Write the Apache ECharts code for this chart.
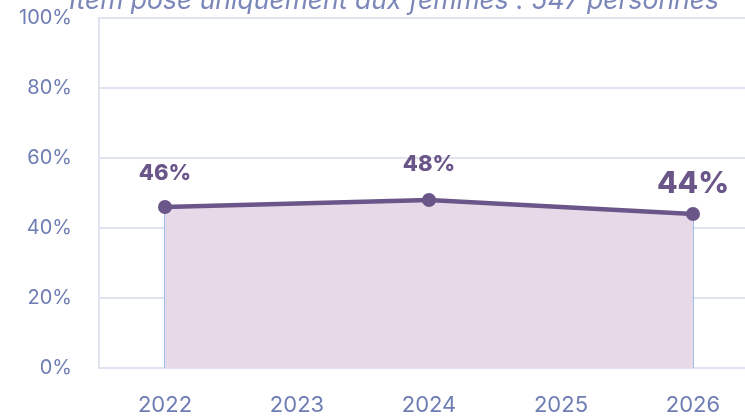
<!DOCTYPE html>
<html>
<head>
<meta charset="utf-8">
<script src="https://cdn.jsdelivr.net/npm/echarts@6/dist/echarts.min.js"></script>
<style>
  html, body { margin: 0; padding: 0; background: #fff; }
  #main { width: 745px; height: 419px; }
</style>
</head>
<body>
<div id="main"></div>
<script>
    // données
    var years = ['2022', '2023', '2024', '2025', '2026'];
    var values = [46, null, 48, null, 44];
    var yTicks = [0, 20, 40, 60, 80, 100];
    var titleText = 'Item posé uniquement aux femmes : 547 personnes';

    var lineColor = '#6a5688';
    var axisColor = '#dfe2ef';
    var labelColor = '#6e7db3';

    var lastIdx = values.length - 1;
    var seriesData = values.map(function (v, i) {
        if (v === null) return null;
        var big = i === lastIdx;
        return {
            value: v,
            label: {
                fontSize: big ? 30 : 22,
                offset: big ? [0, 6] : (i === 0 ? [0, -2] : [0, -4])
            }
        };
    });

    // traits verticaux aux extrémités de l'aire
    var edgeLines = [];
    [0, lastIdx].forEach(function (i) {
        edgeLines.push([{coord: [years[i], 0]}, {coord: [years[i], values[i]]}]);
    });

    var chart = echarts.init(document.getElementById('main'));
    chart.setOption({
        animation: false,
        textStyle: {fontFamily: 'Inter'},
        title: {
            text: titleText,
            left: 64,
            top: -17,
            textStyle: {
                fontFamily: 'Inter',
                fontStyle: 'italic',
                fontWeight: 'normal',
                fontSize: 26.5,
                color: '#7b87b9'
            }
        },
        grid: {
            left: 99, width: 660, top: 18, bottom: 51,
            containLabel: false,
            outerBoundsMode: 'none'
        },
        xAxis: {
            type: 'category',
            data: years,
            boundaryGap: true,
            axisLine: {lineStyle: {color: axisColor, width: 2}},
            axisTick: {show: false},
            axisLabel: {color: labelColor, fontSize: 22, margin: 26}
        },
        yAxis: {
            type: 'value',
            min: 0,
            max: 100,
            interval: 20,
            axisLine: {show: true, lineStyle: {color: axisColor, width: 2}},
            axisTick: {show: false},
            splitLine: {lineStyle: {color: axisColor, width: 2}},
            axisLabel: {
                color: labelColor,
                fontSize: 20,
                margin: 27,
                formatter: function (v) {
                    return yTicks.indexOf(v) >= 0 ? v + '%' : '';
                }
            }
        },
        series: [{
            type: 'line',
            data: seriesData,
            connectNulls: true,
            symbol: 'circle',
            symbolSize: 14,
            itemStyle: {color: lineColor},
            lineStyle: {color: lineColor, width: 4.5},
            areaStyle: {color: '#e8d9e9', opacity: 1},
            label: {
                show: true,
                position: 'top',
                distance: 14,
                color: lineColor,
                fontWeight: 800,
                formatter: '{c}%'
            },
            markLine: {
                silent: true,
                symbol: 'none',
                label: {show: false},
                lineStyle: {color: '#78ade2', width: 1.5, type: 'solid', opacity: 1},
                data: edgeLines,
                z: 3
            }
        }]
    });
</script>
</body>
</html>
